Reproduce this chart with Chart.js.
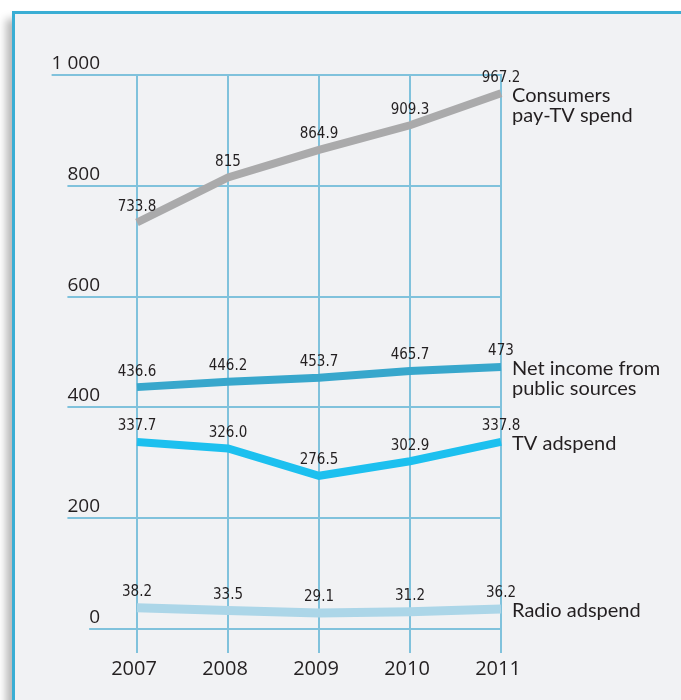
<!DOCTYPE html>
<html>
<head>
<meta charset="utf-8">
<script src="https://cdn.jsdelivr.net/npm/chart.js@4"></script>
<style>
  html, body { margin: 0; padding: 0; background: #fff; width: 681px; height: 700px; overflow: hidden; }
  #frame {
    position: absolute; left: 12px; top: 11px; width: 700px; height: 720px;
    background: #f1f2f4; border: 3px solid #3aaed4;
    box-shadow: -6px 8px 8px rgba(0, 0, 0, 0.28);
  }
  #wrap { position: absolute; left: 0; top: 0; width: 681px; height: 700px; }
</style>
</head>
<body>
<div id="frame"></div>
<div id="wrap"><canvas id="chart" width="681" height="700"></canvas></div>
<script>
// data
const years = ["2007", "2008", "2009", "2010", "2011"];
const yTicks = [0, 200, 400, 600, 800, 1000];
const yTickLabels = ["0", "200", "400", "600", "800", "1 000"];

const payTv = [733.8, 815, 864.9, 909.3, 967.2];
const payTvText = ["733.8", "815", "864.9", "909.3", "967.2"];
const publicIncome = [436.6, 446.2, 453.7, 465.7, 473];
const publicIncomeText = ["436.6", "446.2", "453.7", "465.7", "473"];
const tvAd = [337.7, 326.0, 276.5, 302.9, 337.8];
const tvAdText = ["337.7", "326.0", "276.5", "302.9", "337.8"];
const radioAd = [38.2, 33.5, 29.1, 31.2, 36.2];
const radioAdText = ["38.2", "33.5", "29.1", "31.2", "36.2"];

const seriesNames = [
  ["Consumers", "pay-TV spend"],
  ["Net income from", "public sources"],
  ["TV adspend"],
  ["Radio adspend"]
];

const textColor = "#231f20";
const gridColor = "#80c2dc";
const labelFont = "15px 'Liberation Sans Narrow', 'DejaVu Sans Condensed', sans-serif";
const axisFont = "19px 'Open Sans', 'Noto Sans', sans-serif";
const nameFont = "20px Lato, 'Open Sans', sans-serif";

// grid, tick labels, value labels and series names
const decorations = {
  id: "decorations",
  beforeDatasetsDraw(chart) {
    const ctx = chart.ctx;
    const x = chart.scales.x, y = chart.scales.y;
    const right = x.getPixelForValue(4);
    ctx.save();
    ctx.strokeStyle = gridColor;
    ctx.lineWidth = 2;
    ctx.font = axisFont;
    ctx.fillStyle = textColor;
    ctx.textAlign = "right";
    ctx.textBaseline = "alphabetic";
    yTicks.forEach((v, i) => {
      const py = Math.round(y.getPixelForValue(v));
      const w = ctx.measureText(yTickLabels[i]).width;
      const lx = 100 - w;
      ctx.beginPath();
      ctx.moveTo(lx, py);
      ctx.lineTo(right + 1, py);
      ctx.stroke();
      ctx.fillText(yTickLabels[i], 100, py - 6);
    });
    const top = y.getPixelForValue(1000);
    const bottom = y.getPixelForValue(0) + 24;
    years.forEach((yr, i) => {
      const px = Math.round(x.getPixelForValue(i));
      ctx.beginPath();
      ctx.moveTo(px, top);
      ctx.lineTo(px, bottom);
      ctx.stroke();
    });
    ctx.font = "20px 'Open Sans', 'Noto Sans', sans-serif";
    ctx.textAlign = "center";
    ctx.textBaseline = "middle";
    years.forEach((yr, i) => {
      ctx.fillText(yr, x.getPixelForValue(i) - 3, y.getPixelForValue(0) + 40);
    });
    ctx.restore();
  },
  afterDatasetsDraw(chart) {
    const ctx = chart.ctx;
    const x = chart.scales.x, y = chart.scales.y;
    const texts = [payTvText, publicIncomeText, tvAdText, radioAdText];
    ctx.save();
    ctx.fillStyle = textColor;
    chart.data.datasets.forEach((ds, d) => {
      ctx.font = labelFont;
      ctx.textAlign = "center";
      ctx.textBaseline = "bottom";
      ds.data.forEach((v, i) => {
        ctx.fillText(texts[d][i], x.getPixelForValue(i), y.getPixelForValue(v) - 8);
      });
      ctx.font = nameFont;
      ctx.textAlign = "left";
      ctx.textBaseline = "middle";
      const last = y.getPixelForValue(ds.data[ds.data.length - 1]);
      const names = seriesNames[d];
      names.forEach((n, k) => {
        ctx.fillText(n, x.getPixelForValue(4) + 11, last + 2 + k * 20);
      });
    });
    ctx.restore();
  }
};

const line = (data, color, width) => ({
  data: data,
  borderColor: color,
  borderWidth: width,
  borderCapStyle: "butt",
  borderJoinStyle: "miter",
  pointRadius: 0,
  tension: 0,
  fill: false
});

new Chart(document.getElementById("chart"), {
  type: "line",
  data: {
    labels: years,
    datasets: [
      line(payTv, "#aaaaab", 8),
      line(publicIncome, "#38a7cc", 8),
      line(tvAd, "#1cc0ef", 8),
      line(radioAd, "#acd6e8", 9)
    ]
  },
  options: {
    responsive: false,
    animation: false,
    devicePixelRatio: 1,
    layout: { padding: { left: 137, right: 180, top: 75, bottom: 71 } },
    plugins: { legend: { display: false }, tooltip: { enabled: false } },
    scales: {
      x: { display: false, offset: false },
      y: { display: false, min: 0, max: 1000 }
    }
  },
  plugins: [decorations]
});
</script>
</body>
</html>
